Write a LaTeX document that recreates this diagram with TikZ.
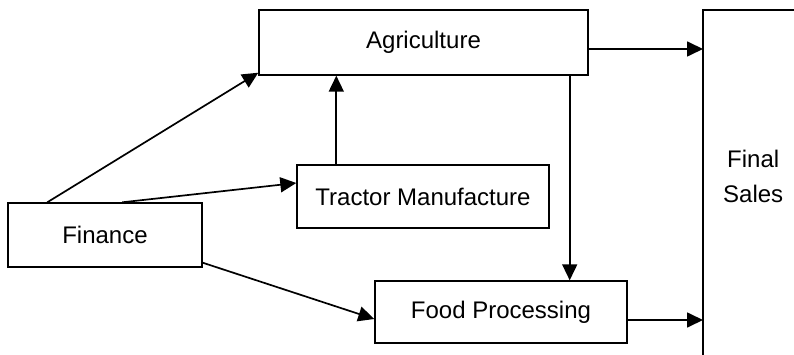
\documentclass[tikz,border=0pt]{standalone}
\usepackage{fontspec}
\setmainfont{Liberation Sans}
\usetikzlibrary{arrows.meta}
\begin{document}
\begin{tikzpicture}[x=1pt,y=-1pt,
  box/.style={draw, line width=1.4pt, inner sep=0pt, font=\fontsize{24}{35}\selectfont},
  arr/.style={line width=1.7pt, -{Triangle[length=16pt,width=15pt]}}]
\useasboundingbox (0,0) rectangle (794,355);
\node[box, minimum width=329pt, minimum height=65pt] (agr) at (423.5,42.5) {Agriculture};
\node[box, minimum width=194pt, minimum height=64pt] (fin) at (105,235) {Finance};
\node[box, minimum width=252pt, minimum height=63pt] (trac) at (423,196.5) {Tractor Manufacture};
\node[box, minimum width=252pt, minimum height=62pt] (food) at (501,312) {Food Processing};
\node[inner sep=0pt, anchor=north west, minimum width=100pt, minimum height=332pt, align=center,
  font=\fontsize{24}{35}\selectfont] (final) at (703,10) {Final\\Sales};
\draw[line width=1.4pt] (final.north west) ++(0,345) -- (final.north west) -- (final.north west -| 794,0);
\draw[arr] ([xshift=40pt]fin.north west) -- ([yshift=3pt]agr.south west);
\draw[arr] ([xshift=115pt]fin.north west) -- ([yshift=13.5pt]trac.west);
\draw[arr] ([yshift=5pt]fin.south east) -- ([yshift=-7pt]food.west);
\draw[arr] ([xshift=40pt]trac.north west) coordinate (t1) -- (t1 |- agr.south);
\draw[arr] ([xshift=-19pt]agr.south east) coordinate (a1) -- (a1 |- food.north);
\draw[arr] ([yshift=-6.5pt]agr.east) coordinate (a2) -- (a2 -| final.west);
\draw[arr] ([yshift=-8pt]food.east) coordinate (f2) -- (f2 -| final.west);
\end{tikzpicture}
\end{document}
